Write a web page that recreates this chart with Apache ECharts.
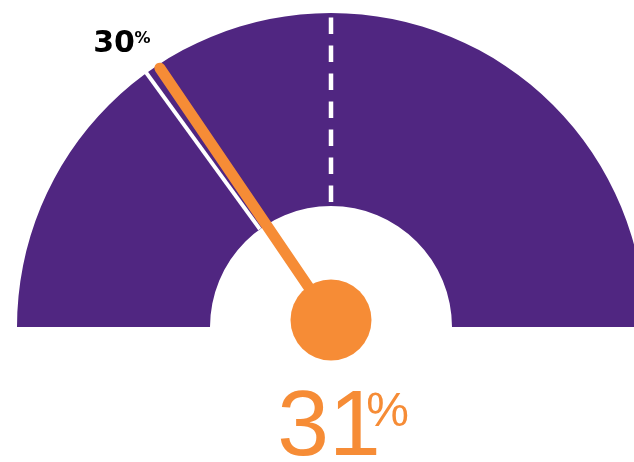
<!DOCTYPE html>
<html>
<head>
<meta charset="utf-8">
<script src="https://cdn.jsdelivr.net/npm/echarts@6/dist/echarts.min.js"></script>
<style>
html,body{margin:0;padding:0;background:#fff;}
#chart{width:634px;height:462px;}
</style>
</head>
<body>
<div id="chart"></div>
<script>
// ---- data ----
const gaugeRange = [0, 100];
const actualValue = [31];
const targetValue = [30];
const midMarkValue = [50];
const unitLabel = ['%'];

// ---- style ----
const purple = '#502681';
const orange = '#F68C36';
const cx = 331, cy = 327;
const pivotY = 320;
const outerR = 314, innerR = 121;

function valueAngle(v) {
  return Math.PI * (1 - (v - gaugeRange[0]) / (gaugeRange[1] - gaugeRange[0]));
}
const tAng = valueAngle(targetValue[0]);
const labelR = 352;
const lblX = labelR * Math.cos(tAng), lblY = -labelR * Math.sin(tAng);

// dashed marker path
const dashN = 7, dashL = 16.5, gapL = 11.5;
let dashPath = 'path://';
for (let i = 0; i < dashN; i++) {
  dashPath += 'M0 ' + (i * (dashL + gapL)) + ' h4 v' + dashL + ' h-4 Z ';
}
const dashTotal = dashN * dashL + (dashN - 1) * gapL;

const needleLen = 310, needleW = 11;
const needlePath = 'path://M0 ' + (needleW / 2) + ' A' + (needleW / 2) + ' ' + (needleW / 2) +
  ' 0 0 1 ' + needleW + ' ' + (needleW / 2) + ' L' + needleW + ' ' + needleLen + ' L0 ' + needleLen + ' Z';

const base = {
  type: 'gauge',
  center: [cx, cy],
  radius: outerR,
  startAngle: 180,
  endAngle: 0,
  min: gaugeRange[0],
  max: gaugeRange[1],
  axisTick: { show: false },
  splitLine: { show: false },
  axisLabel: { show: false },
  animation: false,
  silent: true
};

const chart = echarts.init(document.getElementById('chart'), null, { renderer: 'canvas' });
chart.setOption({
  backgroundColor: '#fff',
  animation: false,
  series: [
    Object.assign({}, base, {
      axisLine: { show: true, lineStyle: { width: outerR - innerR, color: [[1, purple]] } },
      pointer: {
        show: true, icon: 'rect', width: 4, length: outerR - innerR + 2,
        offsetCenter: [0, -innerR], itemStyle: { color: '#fff' }
      },
      anchor: { show: false },
      title: {
        show: true, offsetCenter: [lblX + 18.5, lblY - 3.5],
        color: '#000', fontFamily: 'DejaVu Sans', fontWeight: 'bold', fontSize: 16
      },
      detail: {
        show: true, offsetCenter: [lblX - 10, lblY + 2],
        color: '#000', fontFamily: 'DejaVu Sans', fontWeight: 'bold', fontSize: 30,
        formatter: function (v) { return String(v); }
      },
      data: [{ value: targetValue[0], name: unitLabel[0] }]
    }),
    Object.assign({}, base, {
      axisLine: { show: false },
      pointer: {
        show: true, icon: dashPath, width: 4.5, length: dashTotal,
        offsetCenter: [0, -125], itemStyle: { color: '#fff' }
      },
      anchor: { show: false },
      title: { show: false },
      detail: { show: false },
      data: [{ value: midMarkValue[0] }]
    }),
    Object.assign({}, base, {
      center: [cx, pivotY],
      axisLine: { show: false },
      pointer: {
        show: true, icon: needlePath, width: needleW, length: needleLen,
        itemStyle: { color: orange }
      },
      anchor: {
        show: true, showAbove: true, size: 81, offsetCenter: [0, 0],
        itemStyle: { color: orange }
      },
      title: {
        show: true, offsetCenter: [56.5, 92.5],
        color: orange, fontFamily: 'Liberation Sans', fontWeight: 'normal', fontSize: 48
      },
      detail: {
        show: true, offsetCenter: [-2, 109],
        color: orange, fontFamily: 'Liberation Sans', fontWeight: 'normal', fontSize: 93,
        formatter: function (v) { return String(v); }
      },
      data: [{ value: actualValue[0], name: unitLabel[0] }]
    })
  ]
});
</script>
</body>
</html>
